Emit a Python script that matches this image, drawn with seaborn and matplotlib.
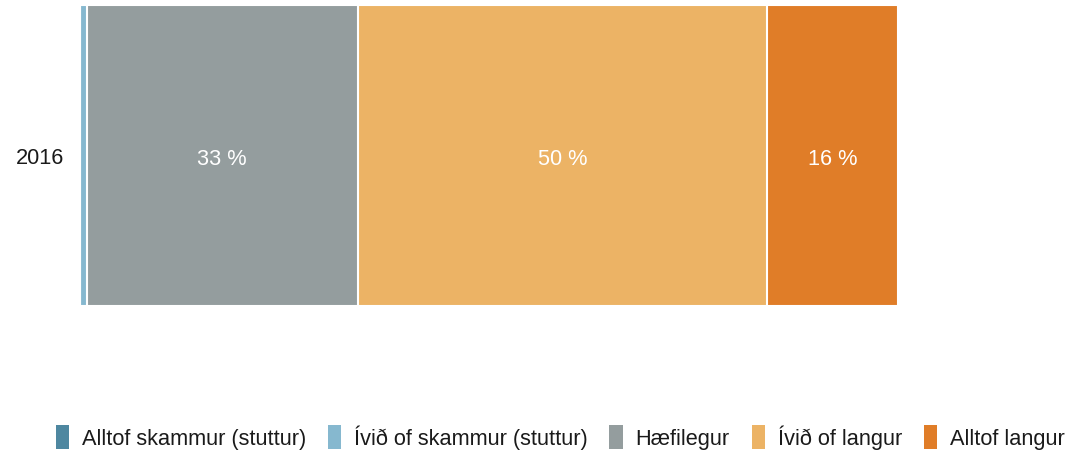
import matplotlib
matplotlib.use("Agg")
import matplotlib.pyplot as plt
from matplotlib.patches import Patch
import seaborn as sns
import pandas as pd
import numpy as np

categories = ["2016"]
series_names = ["Alltof skammur (stuttur)", "Ívið of skammur (stuttur)", "Hæfilegur",
                "Ívið of langur", "Alltof langur"]
values = [0.0, 0.8, 33.2, 50.1, 16.0]
label_values = [0, 1, 33, 50, 16]
colors = ["#4e87a0", "#86b8cf", "#949d9e", "#ecb365", "#e07d28"]

sns.set_theme(style="white")
plt.rcParams["font.family"] = ["Liberation Sans", "DejaVu Sans"]

fig = plt.figure(figsize=(10.74, 4.56), dpi=100)
ax = fig.add_axes([80 / 1074, 1 - 307 / 456, (897 - 80) / 1074, 301 / 456])

cum = np.cumsum(values)
# draw cumulative bars from the largest to the smallest (stacking)
for i in range(len(values) - 1, -1, -1):
    df = pd.DataFrame({"year": categories, "value": [cum[i]]})
    sns.barplot(data=df, x="value", y="year", orient="h", color=colors[i],
                width=1.0, edgecolor="white", linewidth=1.5, ax=ax, saturation=1)

starts = cum - np.array(values)
for v, lv, s in zip(values, label_values, starts):
    if v >= 5:
        ax.text(s + v / 2, 0.01, f"{lv} %", color="white", ha="center", va="center",
                fontsize=15.7)

ax.set_xlim(0, 100)
ax.set_ylim(0.5, -0.5)
ax.set_xlabel("")
ax.set_ylabel("")
ax.set_xticks([])
ax.tick_params(axis="y", length=0, pad=11, labelsize=15.7, labelcolor="#1a1a1a")
for sp in ax.spines.values():
    sp.set_visible(False)

handles = [Patch(facecolor=c, edgecolor="none") for c in colors]
fig.legend(handles, series_names, loc="center", bbox_to_anchor=(0.5215, 1 - 438 / 456),
           ncol=5, frameon=False, fontsize=15.7, handlelength=0.6, handleheight=1.3,
           handletextpad=0.6, columnspacing=1.0, labelcolor="#1a1a1a")

fig.savefig("out.png", dpi=100)
